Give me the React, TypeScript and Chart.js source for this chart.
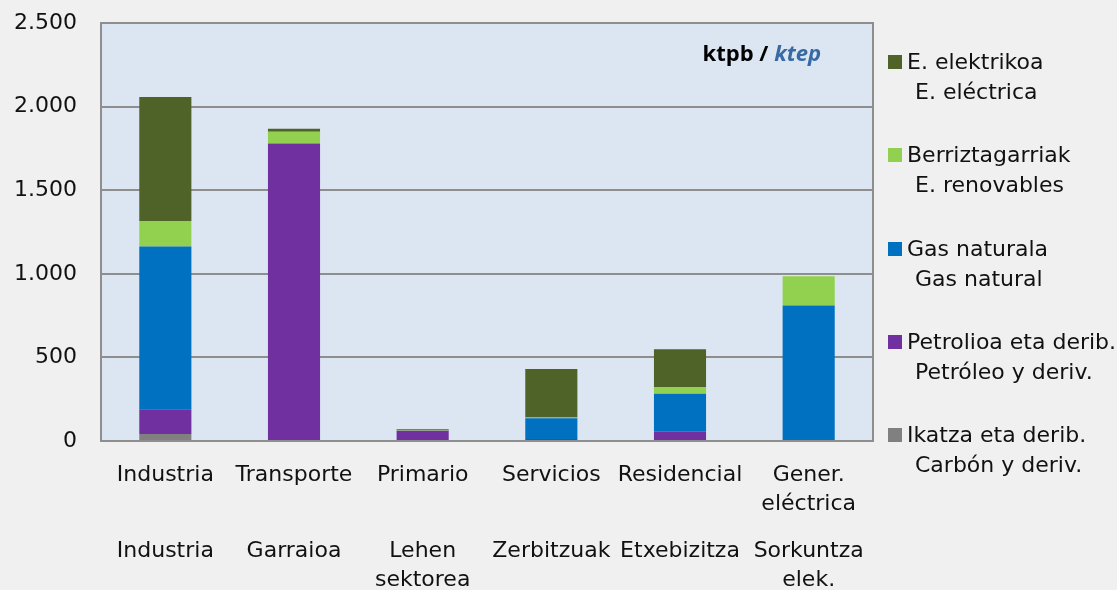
import React, { useEffect, useRef } from "react";
import { Chart, registerables } from "chart.js";

Chart.register(...registerables);

// ---- Data ----
const categoriesEs: string[][] = [
  ["Industria"],
  ["Transporte"],
  ["Primario"],
  ["Servicios"],
  ["Residencial"],
  ["Gener.", "eléctrica"],
];
const categoriesEu: string[][] = [
  ["Industria"],
  ["Garraioa"],
  ["Lehen", "sektorea"],
  ["Zerbitzuak"],
  ["Etxebizitza"],
  ["Sorkuntza", "elek."],
];

const coal = [42, 0, 0, 0, 0, 0];
const petroleum = [148, 1779, 62, 12, 56, 5];
const naturalGas = [973, 0, 0, 124, 227, 805];
const renewables = [153, 70, 3, 4, 40, 176];
const electricity = [742, 18, 5, 290, 226, 0];

const seriesEu = ["Ikatza eta derib.", "Petrolioa eta derib.", "Gas naturala", "Berriztagarriak", "E. elektrikoa"];
const seriesEs = ["Carbón y deriv.", "Petróleo y deriv.", "Gas natural", "E. renovables", "E. eléctrica"];
const seriesColors = ["#808080", "#7030a0", "#0070c0", "#92d050", "#4f6228"];
const seriesValues = [coal, petroleum, naturalGas, renewables, electricity];

const yMin = 0;
const yMax = 2500;
const yStep = 500;
const unitLabelEu = "ktpb / ";
const unitLabelEs = "ktep";

// ---- Styles ----
const FONT = "'DejaVu Sans', sans-serif";
const FONT_SIZE = 22;
const TEXT_COLOR = "#111111";
const PAGE_BG = "#f0f0f0";
const PLOT_BG = "#dce6f2";
const GRID_COLOR = "#8e8e8e";
const UNIT_FONT = "'Open Sans', sans-serif";
const UNIT_SIZE = 22;

const fmt = (v: number) => String(v).replace(/\B(?=(\d{3})+(?!\d))/g, ".");

const plotFrame = {
  id: "plotFrame",
  beforeDraw(chart: any) {
    const { ctx, chartArea: a } = chart;
    ctx.save();
    ctx.fillStyle = PLOT_BG;
    ctx.fillRect(a.left, a.top, a.right - a.left, a.bottom - a.top);
    ctx.restore();
  },
  afterDatasetsDraw(chart: any) {
    const { ctx, chartArea: a } = chart;
    ctx.save();
    ctx.strokeStyle = GRID_COLOR;
    ctx.lineWidth = 2;
    ctx.strokeRect(a.left, a.top, a.right - a.left, a.bottom - a.top);
    ctx.restore();
  },
  afterDraw(chart: any) {
    const { ctx, chartArea: a } = chart;
    ctx.save();
    ctx.textBaseline = "middle";
    ctx.font = `italic bold ${UNIT_SIZE}px ${UNIT_FONT}`;
    const w2 = ctx.measureText(unitLabelEs).width;
    ctx.font = `bold ${UNIT_SIZE}px ${UNIT_FONT}`;
    const w1 = ctx.measureText(unitLabelEu).width;
    const xEnd = a.right - 52;
    const y = a.top + 32;
    ctx.fillStyle = "#000000";
    ctx.fillText(unitLabelEu, xEnd - w2 - w1, y);
    ctx.font = `italic bold ${UNIT_SIZE}px ${UNIT_FONT}`;
    ctx.fillStyle = "#376aa5";
    ctx.fillText(unitLabelEs, xEnd - w2, y);
    ctx.restore();
  },
};

export default function App() {
  const ref = useRef<HTMLCanvasElement | null>(null);

  useEffect(() => {
    if (!ref.current) return;
    const datasets = seriesValues.map((vals, i) => ({
      label: seriesEu[i],
      data: vals,
      backgroundColor: seriesColors[i],
      borderWidth: 0,
      categoryPercentage: 1,
      barPercentage: 0.405,
    }));
    const noPad = (s: any) => {
      s.paddingTop = 0;
      s.paddingBottom = 0;
      s.paddingLeft = 0;
      s.paddingRight = 0;
    };
    const chart = new Chart(ref.current, {
      type: "bar",
      data: { labels: categoriesEs as any, datasets },
      options: {
        animation: false,
        responsive: false,
        devicePixelRatio: 1,
        layout: { padding: { top: 23, right: 244, left: 0, bottom: 0 } },
        plugins: { legend: { display: false }, tooltip: { enabled: false } },
        scales: {
          x: {
            stacked: true,
            position: "bottom",
            weight: 1,
            grid: { display: false },
            border: { display: false },
            ticks: {
              color: TEXT_COLOR,
              font: { family: FONT, size: FONT_SIZE, lineHeight: "29px" },
              padding: 11.5,
              maxRotation: 0,
              autoSkip: false,
            },
            afterFit: (s: any) => {
              s.height = 80;
              noPad(s);
            },
          },
          x2: {
            type: "category",
            labels: categoriesEu as any,
            position: "bottom",
            weight: 2,
            grid: { display: false },
            border: { display: false },
            ticks: {
              color: TEXT_COLOR,
              font: { family: FONT, size: FONT_SIZE, lineHeight: "29px" },
              padding: 7.5,
              maxRotation: 0,
              autoSkip: false,
            },
            afterFit: (s: any) => {
              s.height = 69;
              noPad(s);
            },
          },
          y: {
            stacked: true,
            min: yMin,
            max: yMax,
            grid: { color: GRID_COLOR, lineWidth: 2, drawTicks: false },
            border: { display: false },
            ticks: {
              stepSize: yStep,
              color: TEXT_COLOR,
              font: { family: FONT, size: FONT_SIZE },
              padding: 24,
              callback: (v: any) => fmt(Number(v)),
            },
            afterFit: (s: any) => {
              s.width = 101;
              noPad(s);
            },
          },
        },
      } as any,
      plugins: [plotFrame],
    });
    return () => chart.destroy();
  }, []);

  const legendOrder = [4, 3, 2, 1, 0];
  const firstCenter = 62;
  const itemGap = 93.25;

  return (
    <div
      style={{
        position: "fixed",
        left: 0,
        top: 0,
        width: 1117,
        height: 590,
        background: PAGE_BG,
        overflow: "hidden",
      }}
    >
      <canvas ref={ref} width={1117} height={590} style={{ position: "absolute", left: 0, top: 0, width: 1117, height: 590 }} />
      {legendOrder.map((si, k) => {
        const cy = firstCenter + k * itemGap;
        return (
          <div key={si}>
            <div
              style={{
                position: "absolute",
                left: 888,
                top: cy - 7,
                width: 14,
                height: 14,
                background: seriesColors[si],
              }}
            />
            <div
              style={{
                position: "absolute",
                left: 907,
                top: cy - 15,
                height: 30,
                lineHeight: "30px",
                fontFamily: FONT,
                fontSize: FONT_SIZE,
                color: TEXT_COLOR,
                whiteSpace: "nowrap",
              }}
            >
              {seriesEu[si]}
            </div>
            <div
              style={{
                position: "absolute",
                left: 915,
                top: cy + 15,
                height: 30,
                lineHeight: "30px",
                fontFamily: FONT,
                fontSize: FONT_SIZE,
                color: TEXT_COLOR,
                whiteSpace: "nowrap",
              }}
            >
              {seriesEs[si]}
            </div>
          </div>
        );
      })}
    </div>
  );
}
